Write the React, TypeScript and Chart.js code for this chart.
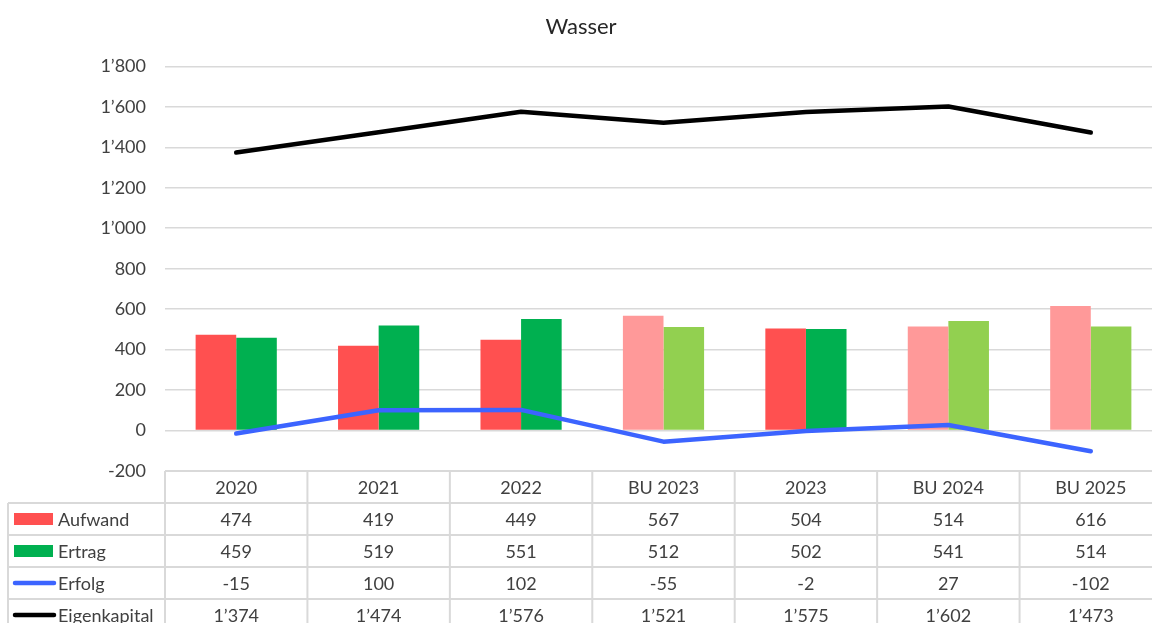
import React, { useEffect, useRef } from "react";
import { Chart, registerables } from "chart.js";

Chart.register(...registerables);

const categories = ["2020", "2021", "2022", "BU 2023", "2023", "BU 2024", "BU 2025"];
const aufwand = [474, 419, 449, 567, 504, 514, 616];
const ertrag = [459, 519, 551, 512, 502, 541, 514];
const erfolg = [-15, 100, 102, -55, -2, 27, -102];
const eigenkapital = [1374, 1474, 1576, 1521, 1575, 1602, 1473];
const isBudget = [false, false, false, true, false, true, true];
const seriesNames = ["Aufwand", "Ertrag", "Erfolg", "Eigenkapital"];
const yMin = -200;
const yMax = 1800;
const yStep = 200;

const COLORS = {
  aufwand: "#FF5050",
  aufwandBU: "#FF9999",
  ertrag: "#00B050",
  ertragBU: "#92D050",
  erfolg: "#3C64FF",
  eigenkapital: "#000000",
  grid: "#D9D9D9",
  text: "#404040",
};

const FONT = "Lato";

const fmt = (n: number): string => {
  const s = Math.abs(n)
    .toString()
    .replace(/\B(?=(\d{3})+(?!\d))/g, "\u2019");
  return (n < 0 ? "-" : "") + s;
};

const tablePlugin = {
  id: "dataTable",
  afterDraw(chart: any) {
    const { ctx, chartArea, scales } = chart;
    const x = scales.x;
    const n = categories.length;
    const colW = (chartArea.right - chartArea.left) / n;
    const top = chartArea.bottom;
    const rowH = 32;
    const leftEdge = 8;
    const rightEdge = chart.width;
    const bottom = chart.height;
    const rows = [aufwand, ertrag, erfolg, eigenkapital];

    ctx.save();
    ctx.strokeStyle = COLORS.grid;
    ctx.lineWidth = 2;
    ctx.beginPath();
    ctx.moveTo(chartArea.left, top);
    ctx.lineTo(rightEdge, top);
    for (let r = 1; r <= rows.length; r++) {
      const y = top + r * rowH;
      ctx.moveTo(leftEdge, y);
      ctx.lineTo(rightEdge, y);
    }
    ctx.moveTo(leftEdge, top + rowH);
    ctx.lineTo(leftEdge, bottom);
    for (let i = 0; i <= n; i++) {
      const bx = i < n ? x.getPixelForValue(i) - colW / 2 : x.getPixelForValue(n - 1) + colW / 2;
      ctx.moveTo(bx, top);
      ctx.lineTo(bx, bottom);
    }
    ctx.stroke();

    ctx.fillStyle = COLORS.text;
    ctx.font = `18px ${FONT}`;
    ctx.textAlign = "center";
    ctx.textBaseline = "middle";
    categories.forEach((c, i) => {
      ctx.fillText(c, x.getPixelForValue(i), top + rowH / 2 + 1);
    });
    rows.forEach((vals, r) => {
      const cy = top + (r + 1) * rowH + rowH / 2 + 1;
      vals.forEach((v, i) => {
        ctx.fillText(fmt(v), x.getPixelForValue(i), cy);
      });
    });

    // legend keys + labels
    const keyColors = [COLORS.aufwand, COLORS.ertrag, COLORS.erfolg, COLORS.eigenkapital];
    seriesNames.forEach((name, r) => {
      const cy = top + (r + 1) * rowH + rowH / 2;
      if (r < 2) {
        ctx.fillStyle = keyColors[r];
        ctx.fillRect(14, cy - 6, 39, 12);
      } else {
        ctx.strokeStyle = keyColors[r];
        ctx.lineWidth = 4.5;
        ctx.lineCap = "round";
        ctx.beginPath();
        ctx.moveTo(15, cy);
        ctx.lineTo(54, cy);
        ctx.stroke();
      }
      ctx.fillStyle = COLORS.text;
      ctx.textAlign = "left";
      ctx.fillText(name, 58, cy + 1);
    });
    ctx.restore();
  },
};

export default function App() {
  const ref = useRef<HTMLCanvasElement>(null);

  useEffect(() => {
    if (!ref.current) return;
    Chart.defaults.font.family = FONT;
    const chart = new Chart(ref.current, {
      type: "bar",
      data: {
        labels: categories,
        datasets: [
          {
            type: "line",
            label: seriesNames[3],
            data: eigenkapital,
            borderColor: COLORS.eigenkapital,
            backgroundColor: COLORS.eigenkapital,
            borderWidth: 4.5,
            pointRadius: 0,
            tension: 0,
            borderCapStyle: "round",
            borderJoinStyle: "round",
            order: 0,
          },
          {
            type: "line",
            label: seriesNames[2],
            data: erfolg,
            borderColor: COLORS.erfolg,
            backgroundColor: COLORS.erfolg,
            borderWidth: 4.5,
            pointRadius: 0,
            tension: 0,
            borderCapStyle: "round",
            borderJoinStyle: "round",
            order: 1,
          },
          {
            type: "bar",
            label: seriesNames[0],
            data: aufwand,
            backgroundColor: isBudget.map((b) => (b ? COLORS.aufwandBU : COLORS.aufwand)),
            borderWidth: 0,
            categoryPercentage: 0.57,
            barPercentage: 1,
            order: 2,
          },
          {
            type: "bar",
            label: seriesNames[1],
            data: ertrag,
            backgroundColor: isBudget.map((b) => (b ? COLORS.ertragBU : COLORS.ertrag)),
            borderWidth: 0,
            categoryPercentage: 0.57,
            barPercentage: 1,
            order: 2,
          },
        ],
      } as any,
      options: {
        responsive: false,
        animation: false,
        layout: { padding: { left: 0, right: 8, top: 0, bottom: 152 } },
        plugins: {
          legend: { display: false },
          tooltip: { enabled: false },
          title: {
            display: true,
            text: "Wasser",
            color: "#262626",
            font: { family: FONT, size: 22, weight: "normal", lineHeight: 1.2 },
            padding: { top: 14, bottom: 26 },
          },
        },
        scales: {
          x: {
            display: false,
            offset: true,
          },
          y: {
            min: yMin,
            max: yMax,
            border: { display: false },
            grid: { color: COLORS.grid, lineWidth: 1.5, drawTicks: false },
            ticks: {
              stepSize: yStep,
              padding: 19,
              color: COLORS.text,
              font: { family: FONT, size: 18 },
              callback: (v: any) => fmt(Number(v)),
            },
            afterFit: (s: any) => {
              s.width = 165;
            },
          },
        },
      } as any,
      plugins: [tablePlugin],
    });
    return () => chart.destroy();
  }, []);

  return (
    <div
      style={{
        position: "fixed",
        left: 0,
        top: 0,
        width: 1152,
        height: 623,
        overflow: "hidden",
        background: "#ffffff",
      }}
    >
      <canvas ref={ref} width={1170} height={623} style={{ display: "block" }} />
    </div>
  );
}
